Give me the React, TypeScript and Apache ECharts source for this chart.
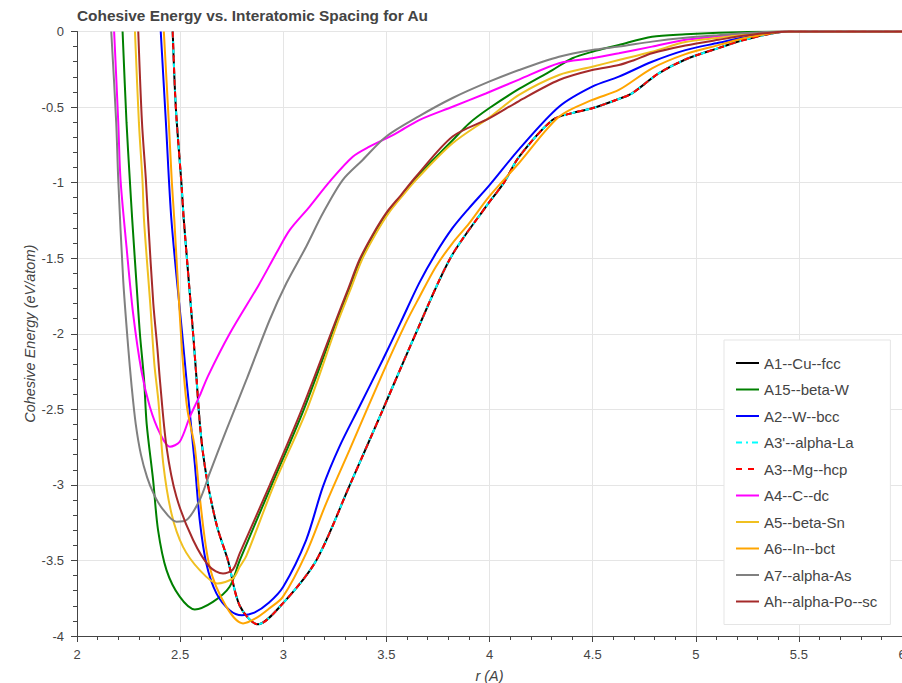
import React, { useEffect, useRef } from "react";
import * as echarts from "echarts";

const titleText = "Cohesive Energy vs. Interatomic Spacing for Au";
const xName = "r (A)";
const yName = "Cohesive Energy (eV/atom)";

const cuFcc: [number, number][] = [
  [2.464, 0], [2.479, -0.5], [2.506, -1.0], [2.518, -1.25], [2.563, -2.0], [2.58, -2.306], [2.594, -2.57],
  [2.61, -2.78], [2.635, -3.0], [2.68, -3.28], [2.732, -3.5], [2.789, -3.8], [2.877, -3.923], [2.998, -3.784],
  [3.16, -3.5], [3.32, -3.01], [3.482, -2.505], [3.643, -1.997], [3.81, -1.5], [3.982, -1.16], [4.07, -1.0],
  [4.143, -0.83], [4.305, -0.586], [4.4, -0.54], [4.498, -0.508], [4.62, -0.45], [4.691, -0.409], [4.82, -0.277],
  [4.95, -0.185], [5.11, -0.11], [5.25, -0.05], [5.45, 0], [6, 0],
];
const alphaLa: [number, number][] = cuFcc;
const mgHcp: [number, number][] = cuFcc;

const betaW: [number, number][] = [
  [2.221, 0], [2.24, -0.6], [2.256, -0.98], [2.268, -1.25], [2.29, -1.7], [2.305, -2.0], [2.325, -2.3],
  [2.338, -2.6], [2.369, -2.968], [2.393, -3.299], [2.434, -3.564], [2.498, -3.74], [2.571, -3.824],
  [2.659, -3.774], [2.74, -3.674], [2.789, -3.5], [2.944, -3.0], [3.1, -2.5], [3.261, -1.909], [3.318, -1.71],
  [3.374, -1.512], [3.438, -1.346], [3.503, -1.203], [3.576, -1.082], [3.648, -0.961], [3.821, -0.72],
  [3.901, -0.608], [3.998, -0.508], [4.143, -0.38], [4.305, -0.255], [4.402, -0.177], [4.498, -0.134],
  [4.627, -0.089], [4.788, -0.034], [4.95, -0.018], [5.11, -0.008], [5.3, -0.002], [5.45, 0], [6, 0],
];

const wBcc: [number, number][] = [
  [2.406, 0], [2.431, -0.6], [2.458, -1.25], [2.51, -2.0], [2.531, -2.306], [2.571, -2.858], [2.595, -3.233],
  [2.627, -3.52], [2.676, -3.718], [2.74, -3.829], [2.8, -3.862], [2.86, -3.845], [2.93, -3.78], [3.0, -3.674],
  [3.111, -3.365], [3.192, -3.013], [3.272, -2.748], [3.369, -2.483], [3.482, -2.174], [3.571, -1.92],
  [3.659, -1.665], [3.74, -1.468], [3.821, -1.3], [3.9, -1.17], [3.998, -1.02], [4.143, -0.78], [4.337, -0.498],
  [4.498, -0.365], [4.627, -0.299], [4.788, -0.2], [4.95, -0.123], [5.11, -0.075], [5.25, -0.034], [5.45, 0], [6, 0],
];

const cDc: [number, number][] = [
  [2.18, 0], [2.2, -0.6], [2.211, -0.98], [2.24, -1.424], [2.272, -1.865], [2.313, -2.25], [2.353, -2.483],
  [2.402, -2.659], [2.45, -2.748], [2.498, -2.715], [2.547, -2.55], [2.595, -2.41], [2.635, -2.28], [2.74, -2.0],
  [2.88, -1.68], [2.966, -1.468], [3.031, -1.314], [3.127, -1.16], [3.224, -0.995], [3.337, -0.829],
  [3.418, -0.762], [3.547, -0.674], [3.659, -0.586], [3.821, -0.498], [3.982, -0.41], [4.143, -0.318],
  [4.337, -0.21], [4.498, -0.177], [4.627, -0.144], [4.788, -0.1], [4.95, -0.055], [5.11, -0.032],
  [5.25, -0.014], [5.45, 0], [6, 0],
];

const betaSn: [number, number][] = [
  [2.281, 0], [2.3, -0.6], [2.318, -1.0], [2.325, -1.25], [2.355, -1.8], [2.375, -2.2], [2.395, -2.45],
  [2.418, -2.858], [2.458, -3.189], [2.514, -3.41], [2.595, -3.564], [2.68, -3.652], [2.756, -3.619],
  [2.789, -3.542], [2.821, -3.47], [2.955, -3.0], [3.115, -2.5], [3.268, -1.909], [3.325, -1.71],
  [3.381, -1.512], [3.445, -1.346], [3.51, -1.203], [3.581, -1.082], [3.652, -0.97], [3.821, -0.74],
  [3.998, -0.57], [4.143, -0.42], [4.337, -0.288], [4.498, -0.233], [4.627, -0.189], [4.788, -0.134],
  [4.95, -0.07], [5.11, -0.042], [5.25, -0.018], [5.45, 0], [6, 0],
];

const inBct: [number, number][] = [
  [2.421, 0], [2.445, -0.6], [2.46, -1.0], [2.472, -1.25], [2.495, -1.8], [2.514, -2.2], [2.535, -2.5],
  [2.571, -2.75], [2.595, -3.08], [2.643, -3.542], [2.724, -3.807], [2.805, -3.917], [2.87, -3.88], [2.93, -3.82],
  [2.998, -3.741], [3.111, -3.453], [3.208, -3.122], [3.321, -2.77], [3.482, -2.262], [3.594, -1.93],
  [3.659, -1.76], [3.74, -1.556], [3.821, -1.4], [3.901, -1.27], [3.998, -1.093], [4.143, -0.87], [4.337, -0.564],
  [4.498, -0.453], [4.627, -0.387], [4.788, -0.244], [4.95, -0.15], [5.11, -0.09], [5.25, -0.04], [5.45, 0], [6, 0],
];

const alphaAs: [number, number][] = [
  [2.166, 0], [2.19, -0.6], [2.2, -0.98], [2.224, -1.645], [2.248, -2.086], [2.265, -2.35], [2.285, -2.6],
  [2.31, -2.8], [2.34, -2.95], [2.372, -3.06], [2.41, -3.15], [2.482, -3.244], [2.531, -3.233], [2.595, -3.1],
  [2.643, -2.924], [2.724, -2.637], [2.821, -2.306], [2.934, -1.909], [3.015, -1.666], [3.111, -1.424],
  [3.192, -1.203], [3.288, -0.983], [3.385, -0.85], [3.498, -0.696], [3.659, -0.56], [3.821, -0.44],
  [3.998, -0.332], [4.143, -0.255], [4.337, -0.167], [4.498, -0.122], [4.627, -0.1], [4.788, -0.067],
  [4.95, -0.042], [5.11, -0.024], [5.25, -0.01], [5.45, 0], [6, 0],
];

const alphaPo: [number, number][] = [
  [2.297, 0], [2.315, -0.6], [2.334, -0.98], [2.345, -1.25], [2.37, -1.8], [2.39, -2.1], [2.402, -2.306],
  [2.434, -2.748], [2.482, -3.079], [2.563, -3.365], [2.643, -3.542], [2.708, -3.586], [2.756, -3.56],
  [2.789, -3.453], [2.935, -3.0], [3.09, -2.5], [3.256, -1.909], [3.313, -1.71], [3.369, -1.512],
  [3.433, -1.346], [3.498, -1.203], [3.571, -1.082], [3.643, -0.961], [3.821, -0.695], [3.998, -0.575],
  [4.143, -0.46], [4.337, -0.321], [4.498, -0.255], [4.627, -0.222], [4.7, -0.19], [4.788, -0.144],
  [4.95, -0.093], [5.11, -0.055], [5.25, -0.025], [5.45, 0], [6, 0],
];

const seriesNames = [
  "A1--Cu--fcc", "A15--beta-W", "A2--W--bcc", "A3'--alpha-La", "A3--Mg--hcp",
  "A4--C--dc", "A5--beta-Sn", "A6--In--bct", "A7--alpha-As", "Ah--alpha-Po--sc",
];
const seriesData = [cuFcc, betaW, wBcc, alphaLa, mgHcp, cDc, betaSn, inBct, alphaAs, alphaPo];
const seriesColors = [
  "#000000", "#008000", "#0000ff", "#00ffff", "#ff0000",
  "#ff00ff", "#f0c020", "#ffa500", "#808080", "#a52a2a",
];
const seriesDash: (string | number[])[] = [
  "solid", "solid", "solid", [6, 4, 2, 4], [6, 6],
  "solid", "solid", "solid", "solid", "solid",
];

const FONT = '"Liberation Sans", Arial, Helvetica, sans-serif';

export default function App() {
  const ref = useRef<HTMLDivElement>(null);
  useEffect(() => {
    if (!ref.current) return;
    const chart = echarts.init(ref.current, null, { renderer: "svg" });
    chart.setOption({
      animation: false,
      backgroundColor: "#ffffff",
      title: {
        text: titleText,
        left: 77,
        top: 8,
        padding: 0,
        textStyle: { fontFamily: FONT, fontSize: 15.4, fontWeight: "bold", color: "#444444" },
      },
      grid: { left: 77, right: 0, top: 31.5, bottom: 47, containLabel: false, outerBoundsMode: "none" },
      legend: {
        orient: "vertical",
        left: 724,
        top: 340,
        padding: [15.5, 13, 15.5, 11],
        itemGap: 11.5,
        itemWidth: 23,
        itemHeight: 15,
        borderColor: "#e5e5e5",
        borderWidth: 1,
        backgroundColor: "#ffffff",
        itemStyle: { opacity: 0 },
        textStyle: { fontFamily: FONT, fontSize: 15, color: "#444444" },
        data: seriesNames,
      },
      xAxis: {
        type: "value",
        min: 2,
        max: 6,
        interval: 0.5,
        name: xName,
        nameLocation: "middle",
        nameGap: 32,
        nameTextStyle: { fontFamily: FONT, fontSize: 14.5, fontStyle: "italic", color: "#444444" },
        axisLine: { show: true, onZero: false, lineStyle: { color: "#444444", width: 1 } },
        axisTick: { show: true, length: 6, lineStyle: { color: "#444444" } },
        minorTick: { show: true, splitNumber: 5, length: 4, lineStyle: { color: "#444444" } },
        axisLabel: { fontFamily: FONT, fontSize: 13, color: "#444444", margin: 12 },
        splitLine: { show: true, lineStyle: { color: "#e5e5e5", width: 1 } },
      },
      yAxis: {
        type: "value",
        min: -4,
        max: 0,
        interval: 0.5,
        name: yName,
        nameLocation: "middle",
        nameGap: 40,
        nameMoveOverlap: false,
        nameTextStyle: { fontFamily: FONT, fontSize: 14.5, fontStyle: "italic", color: "#444444" },
        axisLine: { show: true, onZero: false, lineStyle: { color: "#444444", width: 1 } },
        axisTick: { show: true, length: 6, lineStyle: { color: "#444444" } },
        minorTick: { show: true, splitNumber: 5, length: 4, lineStyle: { color: "#444444" } },
        axisLabel: { fontFamily: FONT, fontSize: 13, color: "#444444", margin: 13 },
        splitLine: { show: true, lineStyle: { color: "#e5e5e5", width: 1 } },
      },
      series: seriesNames.map((name, i) => ({
        name,
        type: "line",
        data: seriesData[i],
        showSymbol: false,
        symbol: "none",
        smooth: 0.3,
        clip: true,
        color: seriesColors[i],
        lineStyle: { color: seriesColors[i], width: 2, type: seriesDash[i] },
        emphasis: { disabled: true },
      })),
    });
    return () => chart.dispose();
  }, []);
  return (
    <div
      ref={ref}
      style={{ position: "absolute", left: 0, top: 0, width: 902, height: 683, background: "#fff" }}
    />
  );
}
